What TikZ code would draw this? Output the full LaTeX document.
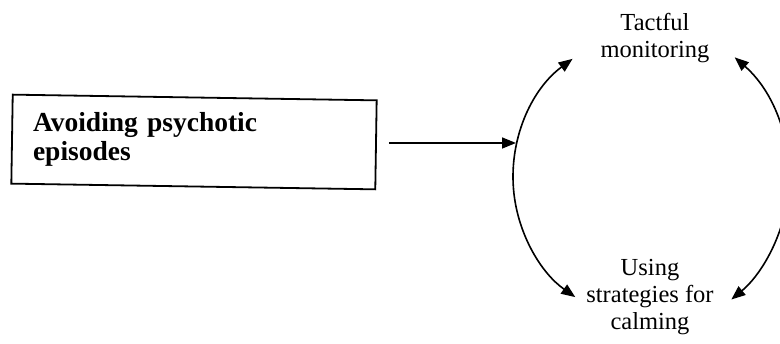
\documentclass[tikz,border=0pt]{standalone}
\usepackage{fontspec}
\setmainfont{Liberation Serif}
\usetikzlibrary{arrows.meta}
\begin{document}
\begin{tikzpicture}[x=1pt,y=1pt,
  >={Triangle[length=14pt,width=11pt]},
  goalframe/.style={draw, line width=1.8pt, rotate=-0.9, minimum width=364pt,
    minimum height=89pt, inner sep=0pt},
  goaltext/.style={text width=322pt, align=left, inner sep=0pt,
    font=\fontsize{27.5}{29}\selectfont\bfseries},
  phase/.style={align=center, inner sep=0pt, anchor=base,
    font=\fontsize{24.5}{27}\selectfont},
  flow/.style={line width=1.6pt, ->},
  cycle/.style={line width=1.6pt, <->}
]
\useasboundingbox (0,0) rectangle (780,344);

% goal box: a slightly tilted frame with level text inside
\node[goalframe] (goal) at (194,202) {};
\node[goaltext] (goaltext) at (194,205) {Avoiding psychotic\\episodes};

% the two phases of the cycle
\node[phase] (tact) at (655,286) {Tactful\\monitoring};
\node[phase] (calm) at (650,14) {Using\\strategies for\\calming};

% centres of the two arcs
\coordinate (lc) at (660,167);
\coordinate (rc) at (630,167);
\coordinate (hit) at (516,201);

% arrow from the goal into the cycle
\draw[flow] ([xshift=12pt]goal.east |- hit) -- (hit);

% left and right arcs of the cycle
\draw[cycle] ([shift={(126.5:147)}]lc) arc[start angle=126.5, end angle=234.8, radius=147];
\draw[cycle] ([shift={(48.8:159)}]rc) arc[start angle=48.8, end angle=-50.4, radius=159];
\end{tikzpicture}
\end{document}
